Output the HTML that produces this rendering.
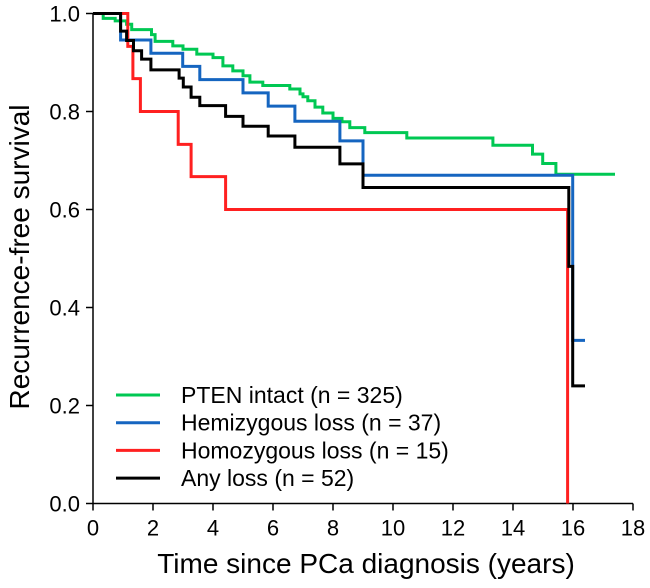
<!DOCTYPE html>
<html><head><meta charset="utf-8"><style>
html,body{margin:0;padding:0;background:#fff;}
svg{display:block;font-family:"Liberation Sans",Arial,sans-serif;}
</style></head><body>
<svg id="chart" width="650" height="588"></svg>
<script>
const xTicks=[0,2,4,6,8,10,12,14,16,18];
const yTicks=[0.0,0.2,0.4,0.6,0.8,1.0];
const seriesNames=["PTEN intact (n = 325)","Hemizygous loss (n = 37)","Homozygous loss (n = 15)","Any loss (n = 52)"];
const seriesColors=["#00c853","#1565c0","#ff2020","#000000"];
const greenT=[0.34,0.74,1.12,1.29,1.95,2.07,2.66,3.0,3.46,4.0,4.33,4.66,5.0,5.23,5.66,6.56,6.9,7.0,7.16,7.4,7.66,8.0,8.3,8.56,9.06,10.46,13.33,14.65,14.99,15.43];
const greenS=[0.99,0.985,0.978,0.967,0.957,0.943,0.934,0.927,0.917,0.91,0.893,0.883,0.873,0.86,0.853,0.846,0.836,0.83,0.822,0.809,0.797,0.786,0.779,0.767,0.757,0.746,0.731,0.713,0.694,0.672];
const greenEnd=17.4;
const blueT=[0.92,1.93,2.99,3.56,5.0,5.84,6.73,8.23,9.0,15.99];
const blueS=[0.946,0.919,0.892,0.865,0.838,0.811,0.78,0.74,0.67,0.333];
const blueEnd=16.4;
const redT=[1.16,1.33,1.58,2.84,3.27,4.42,15.82];
const redS=[0.933,0.867,0.80,0.733,0.667,0.60,0.0];
const redEnd=15.82;
const blackT=[0.92,1.12,1.35,1.62,1.93,2.87,3.01,3.27,3.56,4.42,5.0,5.84,6.73,8.23,9.0,15.86,15.99];
const blackS=[0.964,0.945,0.924,0.907,0.885,0.868,0.85,0.829,0.812,0.79,0.77,0.75,0.727,0.693,0.645,0.484,0.24];
const blackEnd=16.4;

const NS="http://www.w3.org/2000/svg";
const svg=document.getElementById('chart');
const x0=93,x1=633,y0=503.5,y1=13.5;
const X=t=>x0+(t/18)*(x1-x0);
const Y=s=>y0-s*(y0-y1);
function mk(tag,attrs){const e=document.createElementNS(NS,tag);for(const k in attrs)e.setAttribute(k,attrs[k]);svg.appendChild(e);return e;}

let e=mk('line',{x1:x0,y1:y0,x2:x1,y2:y0,stroke:'#000','stroke-width':1.5});


e=mk('line',{x1:x0,y1:y0,x2:x0,y2:y1,stroke:'#000','stroke-width':1.5});


xTicks.forEach(v=>{
  let t=mk('line',{x1:X(v),y1:y0,x2:X(v),y2:y0+7,stroke:'#000','stroke-width':1.5});
  
  
  let l=mk('text',{x:X(v),y:y0+32,'text-anchor':'middle','font-size':22,fill:'#000'});
  l.textContent=v;
  
  
});
yTicks.forEach(v=>{
  let t=mk('line',{x1:x0-7,y1:Y(v),x2:x0,y2:Y(v),stroke:'#000','stroke-width':1.5});
  
  
  let l=mk('text',{x:x0-13,y:Y(v)+8,'text-anchor':'end','font-size':22,fill:'#000'});
  l.textContent=v.toFixed(1);
  
  
});
e=mk('text',{x:366,y:573,'text-anchor':'middle','font-size':28,fill:'#000'});
e.textContent='Time since PCa diagnosis (years)';


e=mk('text',{x:0,y:0,'text-anchor':'middle','font-size':28,fill:'#000',transform:'translate(29,257) rotate(-90)'});
e.textContent='Recurrence-free survival';



function stepPath(ts,ss,end){
  let d='M'+X(0)+','+Y(1);
  for(let i=0;i<ts.length;i++){d+=' H'+X(ts[i])+' V'+Y(ss[i]);}
  d+=' H'+X(end);return d;
}
const all=[[greenT,greenS,greenEnd],[blueT,blueS,blueEnd],[redT,redS,redEnd],[blackT,blackS,blackEnd]];
const names=['curve-pten-intact','curve-hemizygous-loss','curve-homozygous-loss','curve-any-loss'];
all.forEach((a,i)=>{
  let p=mk('path',{d:stepPath(a[0],a[1],a[2]),fill:'none',stroke:seriesColors[i],'stroke-width':3});
  
  
});
seriesNames.forEach((n,i)=>{
  const yy=395+i*27.7;
  let l=mk('line',{x1:116,y1:yy,x2:160,y2:yy,stroke:seriesColors[i],'stroke-width':3});
  
  
  let t=mk('text',{x:181,y:yy+8,'font-size':23,fill:'#000'});
  t.textContent=n;
  
  
});
</script>
</body></html>
